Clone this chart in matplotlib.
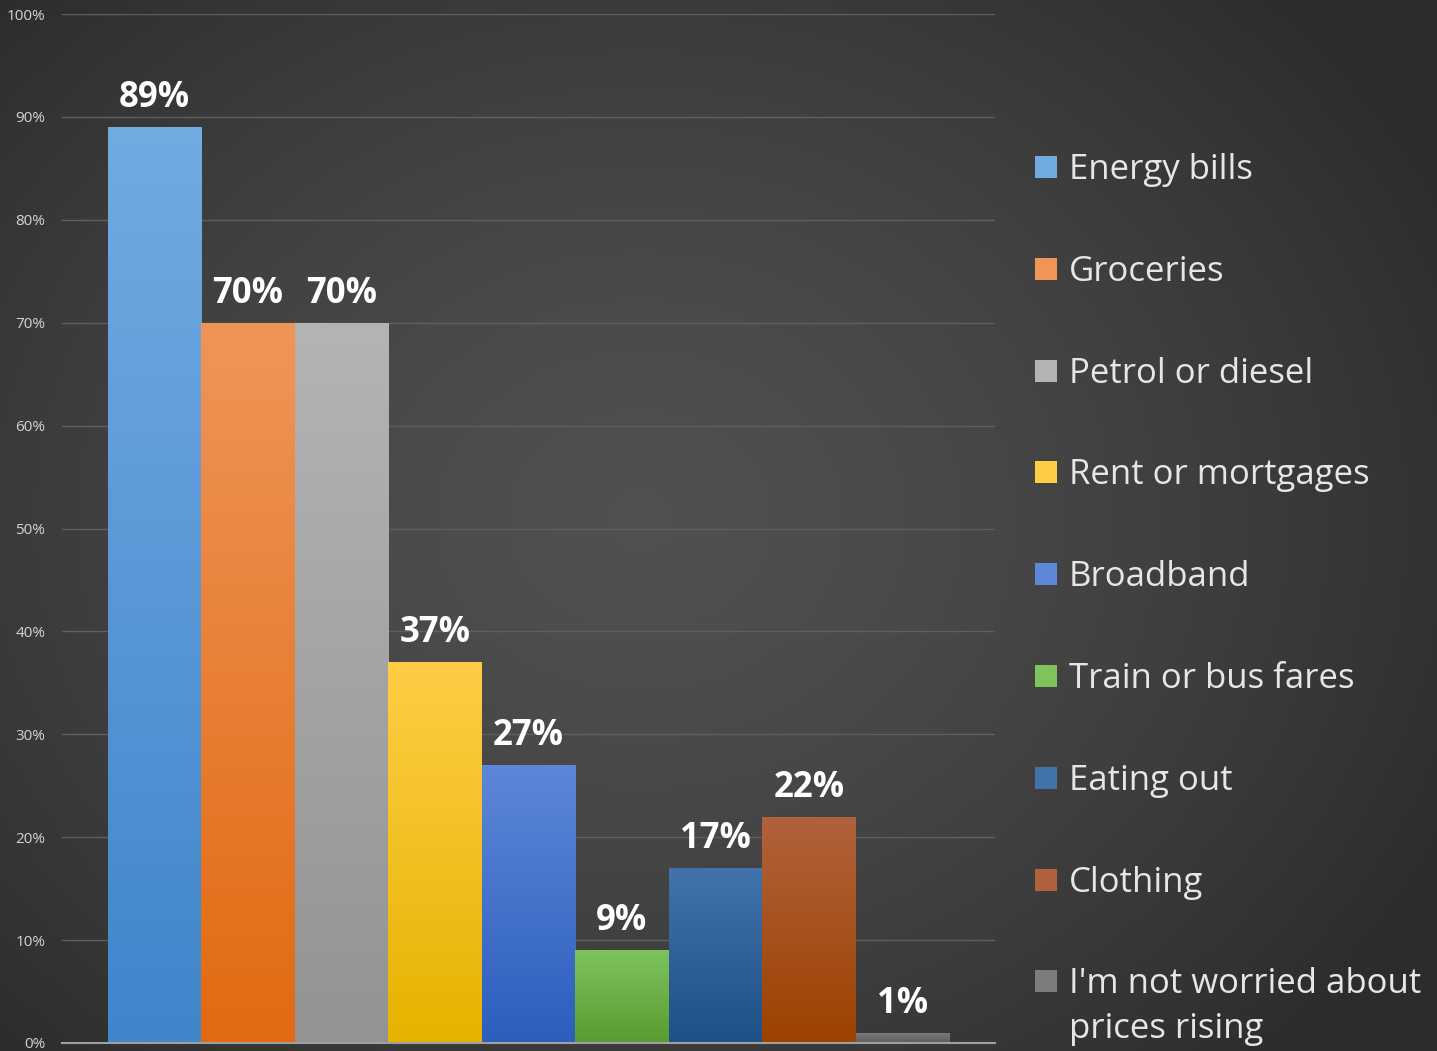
import numpy as np
import matplotlib.pyplot as plt
from matplotlib.patches import Rectangle
from matplotlib.colors import LinearSegmentedColormap, to_rgb

plt.rcParams['font.family'] = ['Open Sans', 'DejaVu Sans']

categories = ['Energy bills', 'Groceries', 'Petrol or diesel', 'Rent or mortgages',
              'Broadband', 'Train or bus fares', 'Eating out', 'Clothing',
              "I'm not worried about\nprices rising"]
values = [89, 70, 70, 37, 27, 9, 17, 22, 1]
top_colors = ['#72aae2', '#f09558', '#b4b4b4', '#ffcd45', '#5d87d8',
              '#7ec35c', '#4273aa', '#b1623c', '#7c7c7c']
bottom_colors = ['#3f86cb', '#e06a12', '#939393', '#e6b300', '#2c5ebe',
                 '#589b30', '#1d5087', '#9c4200', '#5c5c5c']
yticks = list(range(0, 101, 10))

W, H = 1437, 1051
fig = plt.figure(figsize=(W / 100, H / 100), dpi=100)

# background radial gradient
bg = fig.add_axes([0, 0, 1, 1])
yy, xx = np.mgrid[0:H, 0:W]
r = np.sqrt(((xx - 640) / 900.0) ** 2 + ((yy - 520) / 750.0) ** 2)
r = np.clip(r, 0, 1)
shade = 0.315 - 0.14 * r ** 1.4
bg.imshow(np.dstack([shade] * 3), extent=[0, 1, 0, 1], aspect='auto', origin='upper')
bg.set_axis_off()

ax = fig.add_axes([62 / W, 8 / H, (995 - 62) / W, (1043 - 14) / H])
ax.patch.set_alpha(0)
x = np.arange(len(values))
bars = ax.bar(x, values, width=1.0, color='none', zorder=3)
ax.set_xlim(-0.99, len(values) - 1 + 0.99)
ax.set_ylim(0, 100)

for b, c1, c2, v in zip(bars, top_colors, bottom_colors, values):
    cmap = LinearSegmentedColormap.from_list('g', [to_rgb(c2), to_rgb(c1)])
    grad = np.linspace(0, 1, 256).reshape(-1, 1)
    x0, w, h = b.get_x(), b.get_width(), b.get_height()
    im = ax.imshow(grad, cmap=cmap, extent=[x0, x0 + w, 0, h], origin='lower',
                   aspect='auto', zorder=3)
    im.set_clip_path(b)
    ax.annotate(f'{v}%', (x0 + w / 2, h), xytext=(0, 8), textcoords='offset points',
                ha='center', va='bottom', color='white', fontsize=25, fontweight='bold',
                zorder=5)

ax.set_aspect('auto')
ax.set_yticks(yticks)
ax.set_yticklabels([f'{t}%' for t in yticks], color='#d4d4d4', fontsize=11)
ax.tick_params(axis='y', length=0, pad=12)
ax.set_xticks([])
ax.grid(axis='y', color='#5f5f5f', lw=1, zorder=0)
for s in ['top', 'right', 'left']:
    ax.spines[s].set_visible(False)
ax.spines['bottom'].set_color('#a0a0a0')
ax.spines['bottom'].set_linewidth(1.5)
ax.spines['bottom'].set_zorder(4)

# legend
leg_y0, leg_dy = 167, 101.8
for i, (lab, c1, c2) in enumerate(zip(categories, top_colors, bottom_colors)):
    yc = leg_y0 + i * leg_dy
    fig.patches.append(Rectangle((1035 / W, 1 - (yc + 11) / H), 22 / W, 22 / H,
                                 transform=fig.transFigure, facecolor=c1, edgecolor='none'))
    fig.text(1069 / W, 1 - (yc - 14) / H, lab, color='#e6e6e6', fontsize=25,
             ha='left', va='top', linespacing=1.4)

fig.savefig('out.png', dpi=100)
